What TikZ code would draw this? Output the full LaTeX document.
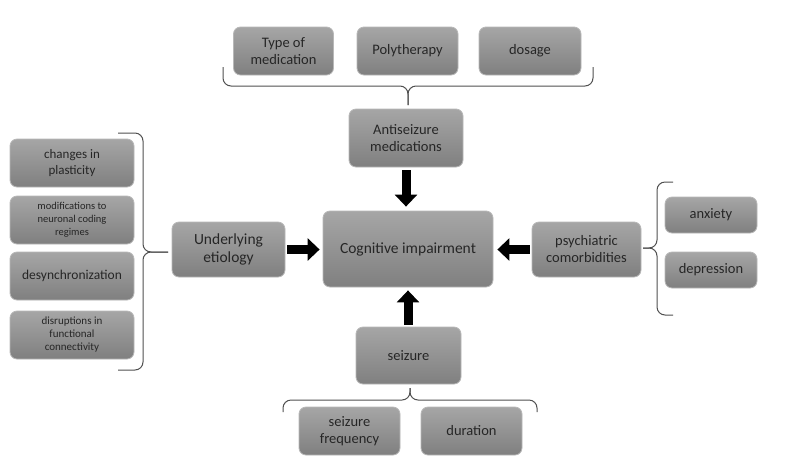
\documentclass[tikz,border=0pt]{standalone}
\usepackage{fontspec}
\setmainfont{Carlito}
\usetikzlibrary{arrows.meta}
\definecolor{txt}{HTML}{262626}
\definecolor{edge}{HTML}{B8B8B8}
\definecolor{brc}{HTML}{505050}
\begin{document}
\begin{tikzpicture}[x=1pt,y=-1pt,
  box/.style={draw=edge,line width=0.8pt,rounded corners=7pt,top color=black!35,bottom color=black!50,
    text=txt,align=center,inner sep=1pt,font=\fontsize{14.5}{17}\selectfont},
  bigarrow/.style={line width=9pt,-{Triangle[width=22pt,length=12pt]},black},
  bracep/.style={draw=brc,line width=1pt,rounded corners=8pt}]
\fill[white] (0,0) rectangle (795,459);
\useasboundingbox (0,0) rectangle (795,459);
% nodes
\node[box,minimum width=100pt,minimum height=48pt] (type) at (283.5,51) {Type of\\medication};
\node[box,minimum width=101pt,minimum height=48pt] (poly) at (407.5,51) {Polytherapy};
\node[box,minimum width=102pt,minimum height=48pt] (dosage) at (530,51) {dosage};
\node[box,minimum width=114pt,minimum height=58pt] (anti) at (406,138) {Antiseizure\\medications};
\node[box,minimum width=170pt,minimum height=76pt,font=\fontsize{15.5}{18}\selectfont] (cog) at (408,249) {Cognitive impairment};
\node[box,minimum width=109pt,minimum height=55pt] (psych) at (586.5,249.5) {psychiatric\\comorbidities};
\node[box,minimum width=113pt,minimum height=55pt,font=\fontsize{15.5}{18}\selectfont] (under) at (228.5,249.5) {Underlying\\etiology};
\node[box,minimum width=124pt,minimum height=48pt,font=\fontsize{13}{15.5}\selectfont] (plast) at (72,163) {changes in\\plasticity};
\node[box,minimum width=124pt,minimum height=48pt,font=\fontsize{10.5}{13}\selectfont] (modif) at (72,220) {modifications to\\neuronal coding\\regimes};
\node[box,minimum width=124pt,minimum height=48pt,font=\fontsize{13.5}{16}\selectfont] (desync) at (72,276) {desynchronization};
\node[box,minimum width=124pt,minimum height=48pt,font=\fontsize{11}{13}\selectfont] (disrupt) at (72,335) {disruptions in\\functional\\connectivity};
\node[box,minimum width=105pt,minimum height=57pt] (seizure) at (408.5,355.5) {seizure};
\node[box,minimum width=101pt,minimum height=48pt] (freq) at (349.5,431) {seizure\\frequency};
\node[box,minimum width=101pt,minimum height=48pt] (dur) at (471.5,431) {duration};
\node[box,minimum width=92pt,minimum height=36pt] (anx) at (711,215) {anxiety};
\node[box,minimum width=92pt,minimum height=36pt] (dep) at (711,270) {depression};
% arrows
\draw[bigarrow,shorten <=3pt,shorten >=4pt] (anti.south) -- (anti.south |- cog.north);
\draw[bigarrow,shorten <=2pt,shorten >=3pt] (seizure.north -| cog.south) -- (cog.south);
\draw[bigarrow,shorten <=2pt,shorten >=3pt] (under.east) -- (under.east -| cog.west);
\draw[bigarrow,shorten <=2pt,shorten >=4pt] (psych.west) -- (psych.west -| cog.east);
% braces
\coordinate (tTip) at (408,105);
\draw[bracep] (223,67) |- (408,86) -- (tTip);
\draw[bracep] (593,67) |- (408,86) -- (tTip);
\coordinate (lTip) at (168,252);
\draw[bracep] (118,133) -| (143,252) -- (lTip);
\draw[bracep] (118,370) -| (143,252) -- (lTip);
\coordinate (bTip) at (410,388);
\draw[bracep] (283,412) |- (410,400) -- (bTip);
\draw[bracep] (537,412) |- (410,400) -- (bTip);
\coordinate (rTip) at (643,248);
\draw[bracep] (673,182) -| (657,248) -- (rTip);
\draw[bracep] (673,315) -| (657,248) -- (rTip);
\end{tikzpicture}
\end{document}
